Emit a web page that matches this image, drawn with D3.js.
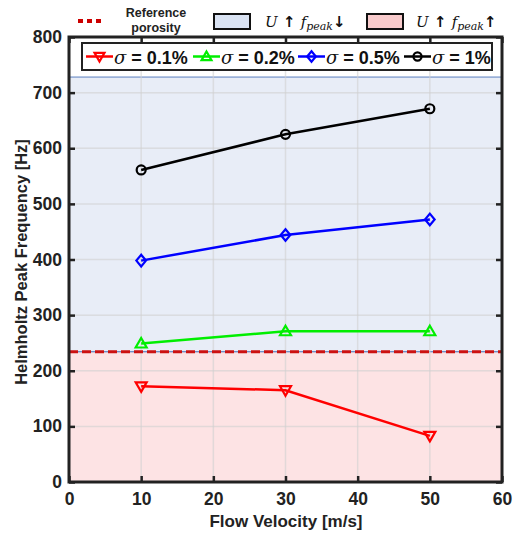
<!DOCTYPE html>
<html><head><meta charset="utf-8">
<script src="https://cdn.jsdelivr.net/npm/d3@7"></script>
<style>body{margin:0;background:#fff;} svg{display:block;}</style>
</head><body>
<svg id="c" width="523" height="533"></svg>
<script>
const velocities = [10, 30, 50];
const sigma01 = [172, 165, 83];
const sigma02 = [249, 271, 271];
const sigma05 = [398, 444, 472];
const sigma1 = [561, 625, 671];
const seriesLabels = ["0.1%", "0.2%", "0.5%", "1%"];
const seriesColors = ["#ff0000", "#00ee00", "#0000ff", "#000000"];
const seriesMarkers = ["triDown", "triUp", "diamond", "circle"];
const referencePorosity = 234;
const regionTop = 728;
const xTicks = [0, 10, 20, 30, 40, 50, 60];
const yTicks = [0, 100, 200, 300, 400, 500, 600, 700, 800];

const allSeries = [sigma01, sigma02, sigma05, sigma1];
const svg = d3.select("#c");
const L = 69, R = 502, T = 37, B = 482;
const x = d3.scaleLinear().domain([0, 60]).range([L, R]);
const y = d3.scaleLinear().domain([0, 800]).range([B, T]);
const font = "'Liberation Sans', Arial, sans-serif";

// regions
svg.append("rect").attr("x", x(0)).attr("y", y(regionTop)).attr("width", x(60) - x(0))
  .attr("height", y(referencePorosity) - y(regionTop)).attr("fill", "#e8edf7")
  .attr("stroke", "#5a7fbf").attr("stroke-width", 1);
svg.append("rect").attr("x", x(0)).attr("y", y(referencePorosity)).attr("width", x(60) - x(0))
  .attr("height", y(0) - y(referencePorosity)).attr("fill", "#fde3e4")
  .attr("stroke", "#5a7fbf").attr("stroke-width", 1);

// grid
const g = svg.append("g");
xTicks.forEach(t => g.append("line").attr("x1", x(t)).attr("x2", x(t)).attr("y1", T).attr("y2", B)
  .attr("stroke", "#d0d0d0").attr("stroke-opacity", 0.6).attr("stroke-width", 1.5));
yTicks.forEach(t => g.append("line").attr("x1", L).attr("x2", R).attr("y1", y(t)).attr("y2", y(t))
  .attr("stroke", "#d0d0d0").attr("stroke-opacity", 0.6).attr("stroke-width", 1.5));

// reference line
svg.append("line").attr("x1", L).attr("x2", R).attr("y1", y(referencePorosity)).attr("y2", y(referencePorosity))
  .attr("stroke", "#cc1111").attr("stroke-width", 3).attr("stroke-dasharray", "9,4");

// axes
const ax = svg.append("g").attr("transform", `translate(0,${B})`)
  .call(d3.axisBottom(x).tickValues(xTicks).tickSize(-6).tickPadding(11));
const axT = svg.append("g").attr("transform", `translate(0,${T})`)
  .call(d3.axisTop(x).tickValues(xTicks).tickSize(-6).tickFormat(""));
const ay = svg.append("g").attr("transform", `translate(${L},0)`)
  .call(d3.axisLeft(y).tickValues(yTicks).tickSize(-6).tickPadding(7));
const ayR = svg.append("g").attr("transform", `translate(${R},0)`)
  .call(d3.axisRight(y).tickValues(yTicks).tickSize(-6).tickFormat(""));
[ax, axT, ay, ayR].forEach(a => {
  a.select(".domain").remove();
  a.selectAll(".tick line").attr("stroke", "#222").attr("stroke-width", 2.5);
  a.selectAll("text").attr("font-family", font).attr("font-weight", "bold").attr("font-size", 17.5).attr("fill", "#222");
});
svg.append("rect").attr("x", L).attr("y", T).attr("width", R - L).attr("height", B - T)
  .attr("fill", "none").attr("stroke", "#222").attr("stroke-width", 3);

// marker
function marker(sel, type, cx, cy, color, s) {
  let p;
  if (type === "circle") p = sel.append("circle").attr("cx", cx).attr("cy", cy).attr("r", s * 0.45);
  else if (type === "diamond") p = sel.append("path").attr("d", `M${cx},${cy - s * 0.58}L${cx + s * 0.48},${cy}L${cx},${cy + s * 0.58}L${cx - s * 0.48},${cy}Z`);
  else if (type === "triUp") p = sel.append("path").attr("d", `M${cx},${cy - s * 0.55}L${cx + s * 0.55},${cy + s * 0.4}L${cx - s * 0.55},${cy + s * 0.4}Z`);
  else p = sel.append("path").attr("d", `M${cx},${cy + s * 0.55}L${cx + s * 0.55},${cy - s * 0.4}L${cx - s * 0.55},${cy - s * 0.4}Z`);
  p.attr("fill", "none").attr("stroke", color).attr("stroke-width", 2.2);
}

// series
const line = d3.line().x((d, i) => x(velocities[i])).y(d => y(d));
allSeries.forEach((s, k) => {
  svg.append("path").datum(s).attr("d", line).attr("fill", "none")
    .attr("stroke", seriesColors[k]).attr("stroke-width", 2.5);
  s.forEach((v, i) => marker(svg, seriesMarkers[k], x(velocities[i]), y(v), seriesColors[k], 10));
});

// legend inside
svg.append("rect").attr("x", 82).attr("y", 43).attr("width", 410).attr("height", 27)
  .attr("fill", "#fff").attr("stroke", "#222").attr("stroke-width", 2);
const legX = [86, 193, 298, 404];
seriesLabels.forEach((lab, k) => {
  const lx = legX[k], ly = 56.5;
  svg.append("line").attr("x1", lx).attr("x2", lx + 27).attr("y1", ly).attr("y2", ly)
    .attr("stroke", seriesColors[k]).attr("stroke-width", 2.5);
  marker(svg, seriesMarkers[k], lx + 13.5, ly, seriesColors[k], 9);
  const t = svg.append("text").attr("x", lx + 28).attr("y", ly + 7).attr("font-size", 18).attr("fill", "#111");
  t.append("tspan").attr("font-family", "'DejaVu Serif', serif").attr("font-style", "italic").text("σ");
  t.append("tspan").attr("font-family", font).attr("font-weight", "bold").text(" = " + lab);
});

// top legend
svg.append("line").attr("x1", 78).attr("x2", 101).attr("y1", 21).attr("y2", 21)
  .attr("stroke", "#cc0000").attr("stroke-width", 4).attr("stroke-dasharray", "5,4");
svg.append("text").attr("x", 156).attr("y", 17).attr("text-anchor", "middle").attr("font-family", font)
  .attr("font-weight", "bold").attr("font-size", 12.5).attr("fill", "#222").text("Reference");
svg.append("text").attr("x", 156).attr("y", 32).attr("text-anchor", "middle").attr("font-family", font)
  .attr("font-weight", "bold").attr("font-size", 12.5).attr("fill", "#222").text("porosity");
const patches = [{x: 214, fill: "#dae3f3", arrow: "↓", tx: 265}, {x: 367, fill: "#f8cbcc", arrow: "↑", tx: 416}];
patches.forEach(p => {
  svg.append("rect").attr("x", p.x).attr("y", 14).attr("width", 36).attr("height", 15)
    .attr("fill", p.fill).attr("stroke", "#111").attr("stroke-width", 2);
  const t = svg.append("text").attr("x", p.tx).attr("y", 27).attr("font-family", "'DejaVu Serif', serif")
    .attr("font-size", 15).attr("fill", "#111");
  t.append("tspan").attr("font-style", "italic").text("U");
  t.append("tspan").attr("font-family", "'DejaVu Sans', sans-serif").attr("font-weight", "bold").text(" ↑ ");
  t.append("tspan").attr("font-style", "italic").text("f");
  t.append("tspan").attr("font-style", "italic").attr("font-size", 11).attr("dy", 3).text("peak");
  t.append("tspan").attr("font-family", "'DejaVu Sans', sans-serif").attr("font-weight", "bold").attr("dy", -3).text(p.arrow);
});

// axis titles
svg.append("text").attr("x", 286).attr("y", 527).attr("text-anchor", "middle").attr("font-family", font)
  .attr("font-weight", "bold").attr("font-size", 17).attr("fill", "#222").text("Flow Velocity [m/s]");
svg.append("text").attr("transform", "translate(27,262) rotate(-90)").attr("text-anchor", "middle").attr("font-family", font)
  .attr("font-weight", "bold").attr("font-size", 16.5).attr("fill", "#222").text("Helmholtz Peak Frequency [Hz]");
</script>
</body></html>
